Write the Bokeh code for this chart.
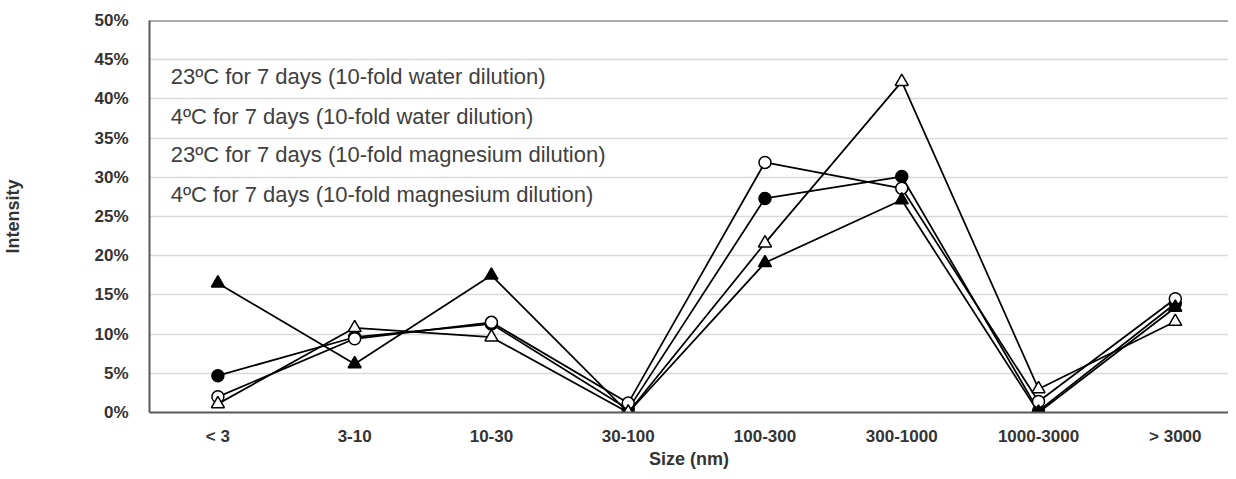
import numpy as np
from bokeh.plotting import figure
from bokeh.models import Range1d, FixedTicker, NumeralTickFormatter, Span, Label
from bokeh.embed import file_html
from bokeh.resources import INLINE

# ---- data ----
categories = ["< 3", "3-10", "10-30", "30-100", "100-300", "300-1000", "1000-3000", "> 3000"]
y_ticks = [0.0, 0.05, 0.10, 0.15, 0.20, 0.25, 0.30, 0.35, 0.40, 0.45, 0.50]
legend_labels = [
    "23ºC for 7 days (10-fold water dilution)",
    "4ºC for 7 days (10-fold water dilution)",
    "23ºC for 7 days (10-fold magnesium dilution)",
    "4ºC for 7 days (10-fold magnesium dilution)",
]
# intensity, percent
water_23C = [4.7, 9.6, 11.3, 0.4, 27.3, 30.1, 0.2, 13.9]      # filled circle
water_4C = [2.0, 9.4, 11.5, 1.2, 31.9, 28.6, 1.4, 14.5]       # open circle
magnesium_23C = [16.5, 6.2, 17.5, 0.0, 19.1, 27.1, 0.0, 13.4]  # filled triangle
magnesium_4C = [1.1, 10.8, 9.6, 0.0, 21.6, 42.2, 3.0, 11.6]    # open triangle

series = [
    (water_23C, "circle", "black", 12),
    (water_4C, "circle", "white", 12),
    (magnesium_23C, "triangle", "black", 13),
    (magnesium_4C, "triangle", "white", 13),
]

x = [i + 0.5 for i in range(len(categories))]
step = 136.9
left = 148
W, H = 1228, 471

p = figure(width=W, height=H, output_backend="svg", toolbar_location=None,
           x_range=Range1d(0, (W - left) / step), y_range=Range1d(0, 0.5),
           min_border_left=left, min_border_right=0, min_border_top=20, min_border_bottom=59)
p.outline_line_color = None
p.background_fill_color = "white"
p.border_fill_color = "white"

TEXT = "#333333"
FONT = "Liberation Sans"

# x axis
p.xaxis.ticker = FixedTicker(ticks=x)
p.xaxis.major_label_overrides = {xi: c for xi, c in zip(x, categories)}
p.xaxis.major_tick_line_color = None
p.xaxis.minor_tick_line_color = None
p.xaxis.axis_line_color = "#595959"
p.xaxis.axis_line_width = 2
p.xaxis.major_label_standoff = 8
p.xaxis.major_label_text_font = FONT
p.xaxis.major_label_text_font_style = "bold"
p.xaxis.major_label_text_font_size = "17px"
p.xaxis.major_label_text_color = TEXT
p.xaxis.axis_label = "Size (nm)"
p.xaxis.axis_label_standoff = 0
p.xaxis.axis_label_text_font = FONT
p.xaxis.axis_label_text_font_style = "bold"
p.xaxis.axis_label_text_font_size = "18px"
p.xaxis.axis_label_text_color = TEXT

# y axis
p.yaxis.ticker = FixedTicker(ticks=y_ticks)
p.yaxis.formatter = NumeralTickFormatter(format="0%")
p.yaxis.major_tick_line_color = None
p.yaxis.minor_tick_line_color = None
p.yaxis.axis_line_color = "#595959"
p.yaxis.axis_line_width = 2
p.yaxis.major_label_standoff = 15
p.yaxis.major_label_text_font = FONT
p.yaxis.major_label_text_font_style = "bold"
p.yaxis.major_label_text_font_size = "17px"
p.yaxis.major_label_text_color = TEXT
p.yaxis.axis_label = "Intensity"
p.yaxis.axis_label_standoff = 68
p.yaxis.axis_label_text_font = FONT
p.yaxis.axis_label_text_font_style = "bold"
p.yaxis.axis_label_text_font_size = "18px"
p.yaxis.axis_label_text_color = TEXT

p.xgrid.grid_line_color = None
p.ygrid.ticker = FixedTicker(ticks=y_ticks)
p.ygrid.grid_line_color = "#d9d9d9"
p.ygrid.grid_line_width = 1.5

p.add_layout(Span(location=0.5, dimension="width", line_color="#595959", line_width=2))

# series
for vals, marker, fill, size in series:
    yv = np.array(vals) / 100.0
    p.line(x, yv, line_color="black", line_width=1.75)
for vals, marker, fill, size in series:
    yv = np.array(vals) / 100.0
    p.scatter(x, yv, marker=marker, size=size, fill_color=fill,
              line_color="black", line_width=1.5)

# legend (text only, as in the reference)
legend_y = [0.4288, 0.3776, 0.3286, 0.2775]
for lab, ly in zip(legend_labels, legend_y):
    p.add_layout(Label(x=0.155, y=ly, text=lab, text_font=FONT, text_font_size="22px",
                       text_color="#404040", text_baseline="alphabetic", text_align="left"))

open("out.html", "w").write(file_html(p, INLINE))
